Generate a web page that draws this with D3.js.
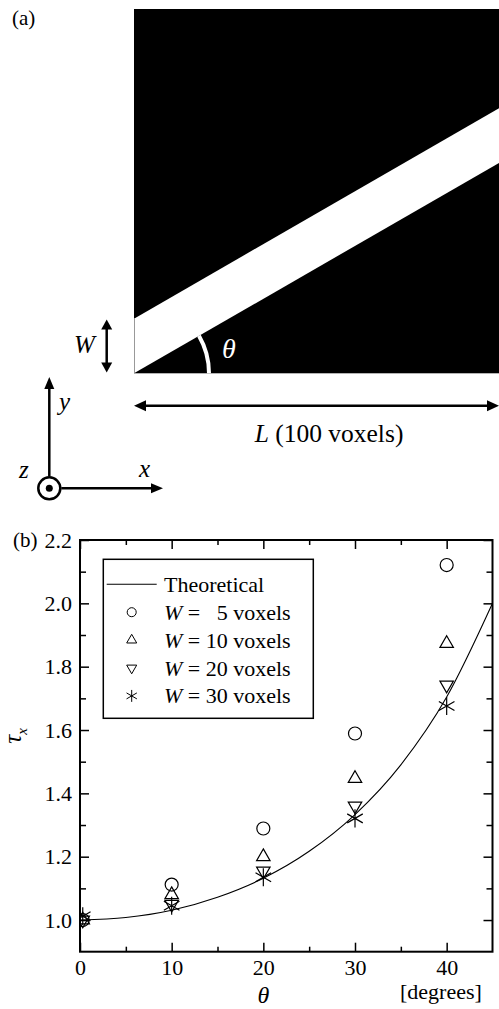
<!DOCTYPE html>
<html>
<head>
<meta charset="utf-8">
<script src="https://cdn.jsdelivr.net/npm/d3@7"></script>
<style>
body { margin: 0; background: #fff; }
svg, svg text { font-family: "Liberation Serif", "Tinos", "Times New Roman", "DejaVu Serif", serif; }
text { white-space: pre; }
</style>
</head>
<body>
<script>
// values
theta = [0.3, 10, 20, 30, 40]
w5 = [1.0, 1.112, 1.289, 1.589, 2.121]
w10 = [1.0, 1.08, 1.2, 1.447, 1.873]
w20 = [1.0, 1.05, 1.155, 1.36, 1.742]
w30 = [1.012, 1.045, 1.135, 1.321, 1.676]

// theoretical curve, read every 5 degrees
theoryTheta = [0, 5, 10, 15, 20, 25, 30, 35, 40, 45]
theoryTau = [1.0, 1.008, 1.031, 1.072, 1.132, 1.217, 1.333, 1.49, 1.704, 2.0]

xTicks = [0, 10, 20, 30, 40]
xMinor = [5, 15, 25, 35]
yTicks = [1.0, 1.2, 1.4, 1.6, 1.8, 2.0, 2.2]
yMinor = [1.1, 1.3, 1.5, 1.7, 1.9, 2.1]
seriesNames = ["=   5 voxels", "= 10 voxels", "= 20 voxels", "= 30 voxels"]

width = 499
height = 1009
serif = "'Liberation Serif', Tinos, 'Times New Roman', 'DejaVu Serif', serif"

var svg = d3.select("body").append("svg")
	.attr("width", width)
	.attr("height", height)
	.attr("font-family", serif)
	.style("display", "block")

// small helper for filled arrow heads
function head(px, py, ang, len, wid) {
	var a = ang * Math.PI / 180
	var bx = px - len * Math.cos(a), by = py - len * Math.sin(a)
	var nx = -Math.sin(a) * wid / 2, ny = Math.cos(a) * wid / 2
	svg.append("path")
		.attr("d", `M${px},${py}L${bx + nx},${by + ny}L${bx - nx},${by - ny}Z`)
		.attr("fill", "black")
}

// ---------- (a) the slab picture ----------
svg.append("text").attr("x", 12).attr("y", 25).attr("font-size", 21).text("(a)")

vx = d3.scaleLinear().domain([0, 100]).range([134, 499])
vy = d3.scaleLinear().domain([0, 100]).range([373.3, 9])
bandTheta = 30
bandW = 15
var rise = 100 * Math.tan(bandTheta * Math.PI / 180)

svg.append("rect")
	.attr("x", vx(0)).attr("y", vy(100))
	.attr("width", vx(100) - vx(0)).attr("height", vy(0) - vy(100))
	.attr("fill", "black")

svg.append("path")
	.attr("d", d3.line()([[vx(0), vy(0)], [vx(100), vy(rise)], [vx(100), vy(rise + bandW)], [vx(0), vy(bandW)]]))
	.attr("fill", "white")
svg.append("line")
	.attr("x1", vx(0) + 0.5).attr("x2", vx(0) + 0.5)
	.attr("y1", vy(bandW)).attr("y2", vy(0))
	.attr("stroke", "#999").attr("stroke-width", 1)

// angle arc
svg.append("path")
	.attr("transform", `translate(${vx(0)},${vy(0)})`)
	.attr("d", d3.arc()({innerRadius: 73, outerRadius: 77, startAngle: Math.PI / 2 - bandTheta * Math.PI / 180, endAngle: Math.PI / 2}))
	.attr("fill", "white")
svg.append("text").attr("x", 222).attr("y", 358)
	.attr("font-size", 28).attr("font-style", "italic").attr("fill", "white").text("θ")

// W arrow
svg.append("line").attr("x1", 106.7).attr("x2", 106.7).attr("y1", 326).attr("y2", 366)
	.attr("stroke", "black").attr("stroke-width", 2.5)
head(106.7, 319.5, -90, 10, 11)
head(106.7, 372.5, 90, 10, 11)
svg.append("text").attr("x", 74).attr("y", 353)
	.attr("font-size", 25).attr("font-style", "italic").text("W")

// L arrow
svg.append("line").attr("x1", 144).attr("x2", 489).attr("y1", 405.7).attr("y2", 405.7)
	.attr("stroke", "black").attr("stroke-width", 2.5)
head(134, 405.7, 180, 12, 11)
head(499, 405.7, 0, 12, 11)
var lt = svg.append("text").attr("x", 329).attr("y", 442).attr("font-size", 25.5).attr("text-anchor", "middle")
lt.append("tspan").attr("font-style", "italic").text("L")
lt.append("tspan").text(" (100 voxels)")

// coordinate triad
var ox = 49.3, oy = 488.3
svg.append("line").attr("x1", ox).attr("x2", ox).attr("y1", oy - 12).attr("y2", 388)
	.attr("stroke", "black").attr("stroke-width", 2.5)
head(ox, 377, -90, 12, 10)
svg.append("line").attr("x1", ox + 12).attr("x2", 152).attr("y1", oy).attr("y2", oy)
	.attr("stroke", "black").attr("stroke-width", 2.5)
head(163, oy, 0, 12, 10)
svg.append("circle").attr("cx", ox).attr("cy", oy).attr("r", 11)
	.attr("fill", "none").attr("stroke", "black").attr("stroke-width", 2.5)
svg.append("circle").attr("cx", ox).attr("cy", oy).attr("r", 3.5).attr("fill", "black")
svg.append("text").attr("x", 59).attr("y", 410).attr("font-size", 25).attr("font-style", "italic").text("y")
svg.append("text").attr("x", 139).attr("y", 477).attr("font-size", 25).attr("font-style", "italic").text("x")
svg.append("text").attr("x", 19).attr("y", 478).attr("font-size", 25).attr("font-style", "italic").text("z")

// ---------- (b) the chart ----------
margin = {top: 540, right: 6.5, bottom: 57.3, left: 80}

x = d3.scaleLinear().domain([0, 45]).range([margin.left, width - margin.right])
y = d3.scaleLinear().domain([0.9, 2.2]).range([height - margin.bottom, margin.top])

svg.append("text").attr("x", 13).attr("y", 547).attr("font-size", 21).text("(b)")

svg.append("clipPath").attr("id", "plot")
	.append("rect")
	.attr("x", x(0)).attr("y", y(2.2))
	.attr("width", x(45) - x(0)).attr("height", y(0.9) - y(2.2))

function styleAxis(g) {
	g.select(".domain").remove()
	g.attr("font-family", serif).attr("font-size", 22)
	g.selectAll("line").attr("stroke-width", 1.5)
	g.selectAll("text").attr("fill", "black")
}

var yb = y(0.9), yt = y(2.2), xl = x(0), xr = x(45)

svg.append("g").attr("transform", `translate(0,${yb})`)
	.call(d3.axisBottom(x).tickValues(xTicks).tickSize(-9).tickPadding(8).tickFormat(d3.format("d")))
	.call(styleAxis)
svg.append("g").attr("transform", `translate(0,${yb})`)
	.call(d3.axisBottom(x).tickValues(xMinor).tickSize(-5).tickFormat(""))
	.call(styleAxis)
svg.append("g").attr("transform", `translate(0,${yt})`)
	.call(d3.axisTop(x).tickValues(xTicks).tickSize(-9).tickFormat(""))
	.call(styleAxis)
svg.append("g").attr("transform", `translate(0,${yt})`)
	.call(d3.axisTop(x).tickValues(xMinor).tickSize(-5).tickFormat(""))
	.call(styleAxis)

svg.append("g").attr("transform", `translate(${xl},0)`)
	.call(d3.axisLeft(y).tickValues(yTicks).tickSize(-9).tickPadding(8).tickFormat(d3.format(".1f")))
	.call(styleAxis)
svg.append("g").attr("transform", `translate(${xl},0)`)
	.call(d3.axisLeft(y).tickValues(yMinor).tickSize(-6).tickFormat(""))
	.call(styleAxis)
svg.append("g").attr("transform", `translate(${xr},0)`)
	.call(d3.axisRight(y).tickValues(yTicks).tickSize(-9).tickFormat(""))
	.call(styleAxis)
svg.append("g").attr("transform", `translate(${xr},0)`)
	.call(d3.axisRight(y).tickValues(yMinor).tickSize(-6).tickFormat(""))
	.call(styleAxis)

svg.append("rect")
	.attr("x", xl).attr("y", yt).attr("width", xr - xl).attr("height", yb - yt)
	.attr("fill", "none").attr("stroke", "black").attr("stroke-width", 2)

// axis titles
var yl = svg.append("text").attr("transform", "translate(21,736) rotate(-90)")
	.attr("text-anchor", "middle").attr("font-size", 25)
yl.append("tspan").attr("font-style", "italic").text("τ")
yl.append("tspan").attr("font-size", 15).attr("dy", 6).attr("font-style", "italic").text("x")

svg.append("text").attr("x", x(20)).attr("y", 1003)
	.attr("text-anchor", "middle").attr("font-size", 24).attr("font-style", "italic").text("θ")
svg.append("text").attr("x", 400).attr("y", 999).attr("font-size", 22).text("[degrees]")

// theoretical curve
var plot = svg.append("g").attr("clip-path", "url(#plot)")
var theory = theoryTheta.map((t, i) => [t, theoryTau[i]])
plot.append("path")
	.attr("d", d3.line().x(d => x(d[0])).y(d => y(d[1])).curve(d3.curveMonotoneX)(theory))
	.attr("fill", "none").attr("stroke", "black").attr("stroke-width", 1.1)

// measured points
var series = [
	{vals: w5, type: d3.symbolCircle, size: 133, lsize: 64, rot: 0},
	{vals: w10, type: d3.symbolTriangle2, size: 130, lsize: 72, rot: 0},
	{vals: w20, type: d3.symbolTriangle2, size: 130, lsize: 72, rot: 180},
	{vals: w30, type: d3.symbolAsterisk, size: 229, lsize: 100, rot: 0}
]

series.forEach(s => {
	plot.append("g").selectAll("path")
		.data(theta.map((t, i) => [t, s.vals[i]]))
		.join("path")
		.attr("transform", d => `translate(${x(d[0])},${y(d[1])}) rotate(${s.rot})`)
		.attr("d", d3.symbol(s.type, s.size))
		.attr("fill", "none").attr("stroke", "black").attr("stroke-width", 1.2)
})

// legend
var lg = svg.append("g")
lg.append("rect").attr("x", 103.3).attr("y", 559.3).attr("width", 210).attr("height", 159)
	.attr("fill", "white").attr("stroke", "black").attr("stroke-width", 1.5)
var rowY = i => 584.3 + i * 27.9
lg.append("line").attr("x1", 106.7).attr("x2", 156.7).attr("y1", rowY(0)).attr("y2", rowY(0))
	.attr("stroke", "black").attr("stroke-width", 1.1)
lg.append("text").attr("x", 164).attr("y", rowY(0) + 7.5).attr("font-size", 22).text("Theoretical")

series.forEach((s, i) => {
	var ry = rowY(i + 1)
	lg.append("path")
		.attr("transform", `translate(131.7,${ry}) rotate(${s.rot})`)
		.attr("d", d3.symbol(s.type, s.lsize))
		.attr("fill", "none").attr("stroke", "black").attr("stroke-width", 1)
	var t = lg.append("text").attr("x", 164).attr("y", ry + 7.5).attr("font-size", 22)
	t.append("tspan").attr("font-style", "italic").text("W")
	t.append("tspan").text(" " + seriesNames[i])
})
</script>
</body>
</html>
